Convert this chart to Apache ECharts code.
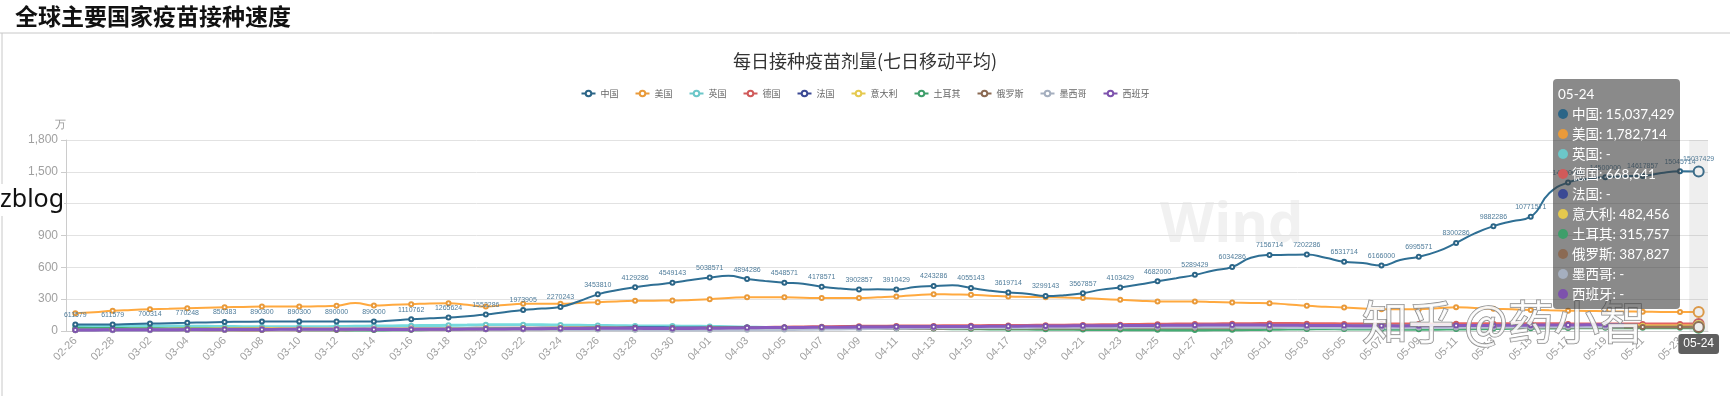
<!DOCTYPE html>
<html><head><meta charset="utf-8">
<script src="https://cdn.jsdelivr.net/npm/echarts@6/dist/echarts.min.js"></script>
<style>html,body{margin:0;padding:0;background:#fff}#c{width:1730px;height:396px}</style>
</head><body><div id="c"></div>
<script>
const dates = ["02-26","02-27","02-28","03-01","03-02","03-03","03-04","03-05","03-06","03-07","03-08",
"03-09","03-10","03-11","03-12","03-13","03-14","03-15","03-16","03-17","03-18","03-19",
"03-20","03-21","03-22","03-23","03-24","03-25","03-26","03-27","03-28","03-29","03-30",
"03-31","04-01","04-02","04-03","04-04","04-05","04-06","04-07","04-08","04-09","04-10",
"04-11","04-12","04-13","04-14","04-15","04-16","04-17","04-18","04-19","04-20","04-21",
"04-22","04-23","04-24","04-25","04-26","04-27","04-28","04-29","04-30","05-01","05-02",
"05-03","05-04","05-05","05-06","05-07","05-08","05-09","05-10","05-11","05-12","05-13",
"05-14","05-15","05-16","05-17","05-18","05-19","05-20","05-21","05-22","05-23","05-24"];

const seriesNames = ['中国','美国','英国','德国','法国','意大利','土耳其','俄罗斯','墨西哥','西班牙'];
const seriesColors = ['#2b6587','#e99a3a','#6cc7c9','#d05a5a','#3b4994','#e5c94e','#3e9e6a','#8b6a53','#a5afbf','#7d52ad'];

const china = [611579,611579,611579,660000,700314,735000,770248,812000,850383,872000,890300,
890300,890300,890100,890000,890000,890000,1000000,1110762,1190000,1265624,1400000,
1552286,1770000,1973905,2110000,2270243,2800000,3453810,3850000,4129286,4350000,4549143,
4800000,5038571,5200000,4894286,4700000,4548571,4450000,4178571,4000000,3902857,3930000,
3910429,4150000,4243286,4300000,4055143,3800000,3619714,3520000,3299143,3380000,3567857,
3900000,4103429,4380000,4682000,4980000,5289429,5700000,6034286,6900000,7156714,7180000,
7202286,6900000,6531714,6400000,6166000,6700000,6995571,7500000,8300286,9200000,9882286,
10350000,10771571,13000000,14000000,14350000,14500000,14580000,14617857,14900000,15045714,15037429];

const usa = [1670000,1760000,1900000,1980000,2050000,2100000,2150000,2200000,2240000,2270000,2300000,
2300000,2300000,2330000,2370000,2650000,2400000,2470000,2530000,2600000,2620000,2480000,
2300000,2450000,2560000,2570000,2560000,2650000,2720000,2790000,2840000,2860000,2870000,
2930000,3000000,3100000,3190000,3180000,3170000,3130000,3100000,3100000,3100000,3170000,
3250000,3380000,3470000,3440000,3410000,3330000,3250000,3210000,3190000,3150000,3100000,
3020000,2940000,2860000,2780000,2780000,2780000,2730000,2680000,2650000,2620000,2500000,
2370000,2290000,2210000,2130000,2050000,2050000,2050000,2150000,2240000,2160000,2090000,
2040000,1990000,1950000,1920000,1890000,1860000,1840000,1820000,1800000,1790000,1782714];

const uk = [480000,490000,500000,490000,480000,470000,450000,440000,420000,410000,400000,
390000,390000,400000,420000,440000,460000,480000,500000,520000,540000,560000,
580000,590000,590000,580000,560000,540000,520000,500000,480000,470000,460000,
450000,430000,400000,360000,330000,300000,280000,260000,250000,250000,260000,
270000,290000,310000,330000,350000,370000,390000,400000,410000,420000,420000,
410000,400000,400000,390000,390000,400000,410000,420000,430000,440000,450000,
460000,470000,480000,490000,500000,500000,500000,490000,480000,480000,470000,
470000,460000,460000,460000,450000,450000,440000,null,null,null,null];

const germany = [150000,155000,160000,165000,170000,175000,180000,190000,200000,210000,215000,
215000,210000,200000,190000,195000,205000,215000,225000,235000,240000,245000,
250000,255000,260000,265000,270000,275000,280000,270000,255000,245000,240000,
260000,280000,300000,320000,340000,360000,380000,400000,420000,440000,450000,
460000,470000,480000,490000,500000,510000,520000,530000,540000,550000,560000,
580000,600000,620000,640000,650000,660000,670000,680000,690000,700000,700000,
690000,680000,670000,660000,650000,650000,660000,670000,680000,690000,690000,
680000,680000,675000,670000,665000,660000,665000,668000,670000,669000,668641];

const france = [100000,105000,110000,115000,120000,125000,130000,135000,140000,145000,150000,
155000,150000,145000,140000,150000,160000,170000,180000,190000,200000,210000,
220000,230000,240000,250000,260000,270000,280000,290000,300000,300000,290000,
280000,290000,310000,330000,340000,330000,320000,330000,340000,350000,360000,
370000,380000,390000,400000,400000,400000,390000,390000,400000,410000,420000,
430000,440000,450000,460000,470000,480000,480000,470000,460000,450000,450000,
460000,470000,480000,490000,500000,500000,490000,480000,470000,470000,480000,
490000,500000,500000,490000,480000,470000,460000,null,null,null,null];

const italy = [150000,155000,160000,165000,170000,175000,180000,185000,190000,195000,200000,
205000,200000,190000,180000,175000,170000,175000,185000,195000,205000,215000,
225000,235000,240000,245000,250000,255000,260000,255000,245000,240000,235000,
240000,250000,260000,270000,280000,285000,290000,295000,300000,305000,310000,
315000,320000,325000,330000,335000,340000,345000,350000,355000,365000,375000,
385000,395000,405000,410000,415000,420000,425000,430000,435000,440000,445000,
450000,455000,460000,460000,465000,465000,470000,470000,475000,475000,478000,
480000,480000,482000,483000,484000,484000,483000,483000,482000,482500,482456];

const turkey = [250000,240000,230000,220000,210000,200000,190000,180000,170000,160000,150000,
140000,130000,120000,110000,100000,100000,110000,120000,140000,160000,180000,
200000,210000,220000,210000,200000,190000,180000,170000,160000,180000,200000,
220000,240000,260000,280000,300000,310000,320000,330000,320000,300000,280000,
260000,240000,230000,220000,210000,200000,190000,180000,170000,160000,150000,
140000,130000,120000,110000,100000,100000,110000,120000,140000,160000,180000,
200000,210000,200000,190000,180000,170000,160000,170000,190000,210000,230000,
250000,270000,280000,290000,300000,305000,310000,312000,314000,315000,315757];

const russia = [80000,82000,84000,86000,88000,90000,92000,95000,98000,100000,105000,
110000,115000,120000,125000,130000,135000,140000,145000,150000,155000,160000,
165000,170000,175000,180000,185000,190000,195000,200000,205000,210000,215000,
220000,225000,230000,235000,240000,245000,250000,255000,260000,262000,264000,
266000,268000,270000,272000,275000,278000,280000,282000,285000,288000,290000,
292000,295000,298000,300000,303000,306000,310000,314000,318000,322000,326000,
330000,334000,338000,342000,346000,350000,354000,358000,362000,366000,370000,
372000,374000,376000,378000,380000,382000,384000,385000,386000,387000,387827];

const mexico = [60000,65000,70000,75000,80000,90000,100000,110000,120000,130000,140000,
150000,160000,170000,180000,190000,200000,200000,195000,190000,185000,180000,
175000,170000,165000,160000,150000,140000,130000,120000,110000,100000,95000,
90000,95000,100000,110000,120000,140000,160000,180000,200000,220000,240000,
260000,280000,300000,310000,320000,330000,335000,340000,345000,350000,355000,
360000,365000,370000,375000,380000,385000,380000,370000,360000,350000,340000,
330000,320000,310000,300000,300000,310000,320000,330000,340000,350000,360000,
370000,380000,390000,395000,400000,405000,410000,null,null,null,null];

const spain = [100000,105000,110000,115000,120000,125000,130000,135000,140000,145000,150000,
155000,160000,165000,170000,160000,150000,145000,150000,160000,170000,180000,
190000,200000,210000,220000,230000,240000,250000,260000,250000,240000,230000,
240000,260000,280000,300000,320000,330000,340000,350000,360000,370000,380000,
390000,400000,410000,420000,430000,440000,450000,460000,470000,480000,490000,
500000,510000,520000,530000,540000,550000,560000,570000,560000,550000,540000,
530000,520000,510000,500000,490000,480000,490000,500000,510000,520000,530000,
540000,550000,560000,570000,580000,590000,600000,null,null,null,null];

const seriesData = [china, usa, uk, germany, france, italy, turkey, russia, mexico, spain];

const chart = echarts.init(document.getElementById('c'));
const fmt = v => (v === null || v === undefined || v === '-' || isNaN(v)) ? '-' : Number(v).toLocaleString('en-US');

chart.setOption({
  animation: false,
  color: seriesColors,
  title: {
    text: '每日接种疫苗剂量(七日移动平均)',
    left: 'center', top: 47,
    textStyle: { fontSize: 18, fontWeight: 'normal', color: '#333', fontFamily: 'Noto Sans CJK SC' }
  },
  legend: {
    top: 84, left: 'center',
    itemWidth: 14, itemHeight: 7, itemGap: 16,
    textStyle: { fontSize: 9, color: '#666', fontFamily: 'Noto Sans CJK SC' },
    data: seriesNames
  },
  grid: { left: 66, right: 22, top: 140, bottom: 65, containLabel: false },
  tooltip: {
    trigger: 'axis',
    alwaysShowContent: true,
    position: [1553, 79],
    backgroundColor: 'rgba(60,60,60,0.6)',
    borderWidth: 0,
    padding: [5, 5],
    textStyle: { color: '#fff', fontSize: 13.5, fontFamily: "Lato, 'Noto Sans CJK SC'" },
    extraCssText: 'line-height:20px;border-radius:4px;box-shadow:none;',
    axisPointer: {
      type: 'shadow',
      shadowStyle: { color: 'rgba(150,150,150,0.16)' },
      label: { show: true, backgroundColor: '#5f5f5f', color: '#fff', fontSize: 12, padding: [4, 5] }
    },
    formatter: function (params) {
      let s = params[0].axisValue;
      params.forEach(p => {
        s += '<br/>' + '<span style="display:inline-block;margin-right:4px;border-radius:10px;width:10px;height:10px;background-color:' + p.color + ';"></span>' + p.seriesName + ': ' + fmt(p.value);
      });
      return s;
    }
  },
  xAxis: {
    type: 'category',
    data: dates,
    boundaryGap: true,
    axisLine: { lineStyle: { color: '#ccc' } },
    axisTick: { alignWithLabel: true, interval: 1, lineStyle: { color: '#ccc' } },
    axisLabel: { interval: 1, rotate: 45, color: '#a0a0a0', fontSize: 11, margin: 8 }
  },
  yAxis: {
    type: 'value',
    name: '万',
    nameGap: 10,
    nameTextStyle: { color: '#999', fontSize: 11, align: 'right' },
    min: 0, max: 18000000, interval: 3000000,
    axisLine: { show: true, lineStyle: { color: '#ccc' } },
    axisTick: { show: true, lineStyle: { color: '#ccc' } },
    axisLabel: { color: '#a0a0a0', fontSize: 12, formatter: v => (v / 10000).toLocaleString('en-US') },
    splitLine: { lineStyle: { color: '#e2e2e2' } }
  },
  series: seriesNames.map((n, i) => ({
    name: n,
    type: 'line',
    data: seriesData[i],
    smooth: true,
    symbol: 'emptyCircle',
    symbolSize: 4,
    showAllSymbol: false,
    z: i === 0 ? 6 : (i === 1 ? 5 : 3),
    lineStyle: { width: i < 2 ? 2 : 3, color: seriesColors[i] },
    itemStyle: { color: seriesColors[i] },
    label: i === 0 ? { show: true, position: 'top', fontSize: 7, color: '#4f7c9a', distance: 3 } : { show: false },
    emphasis: { scale: 2.5, lineStyle: { width: i < 2 ? 2 : 3 } }
  })),
  graphic: [
    { type: 'text', left: 15, top: 5, z: 100, style: { text: '全球主要国家疫苗接种速度', fontSize: 23, fontWeight: 'bold', fill: '#111', fontFamily: 'Noto Sans CJK SC' } },
    { type: 'line', z: 100, shape: { x1: 0, y1: 33, x2: 1730, y2: 33 }, style: { stroke: '#c8c8c8', lineWidth: 1 } },
    { type: 'line', z: 100, shape: { x1: 2, y1: 33, x2: 2, y2: 396 }, style: { stroke: '#c8c8c8', lineWidth: 1 } },
    { type: 'text', x: 1160, y: 198, z: -10, style: { text: 'Wind', fontSize: 56, fontWeight: 'bold', fill: '#f1f1f1', fontFamily: 'Open Sans' } },
    { type: 'rect', z: 100, shape: { x: 0, y: 184, width: 64, height: 32 }, style: { fill: '#fff' } },
    { type: 'text', x: 0, y: 200, z: 101, style: { text: 'zblog', fontSize: 25, fill: '#111', verticalAlign: 'middle', fontFamily: 'Noto Sans' } },
    { type: 'text', x: 1362, y: 322, z: 100, style: { text: '知乎 @药小智', fontSize: 46, fill: 'rgba(255,255,255,0.85)', stroke: '#8a8a8a', lineWidth: 1.5, verticalAlign: 'middle', fontFamily: 'Noto Sans CJK SC' } }
  ]
});

chart.dispatchAction({ type: 'showTip', seriesIndex: 0, dataIndex: 87 });
</script></body></html>
